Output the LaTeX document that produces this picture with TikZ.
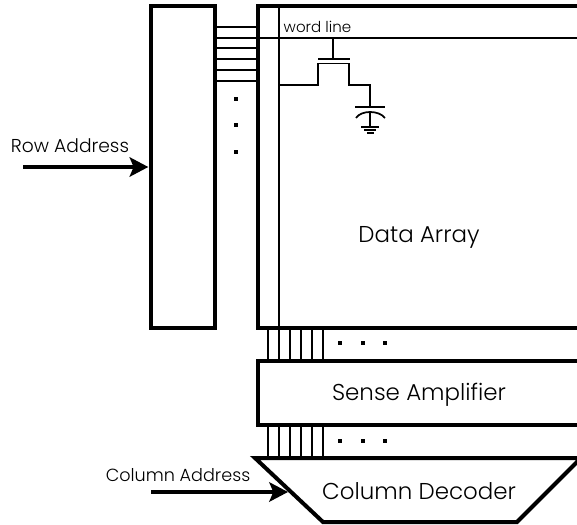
\documentclass[tikz,border=0pt]{standalone}
\usepackage{fontspec}
\setmainfont{Poppins Light}
\usetikzlibrary{arrows.meta}

\tikzset{
    thickline/.style={line width=3pt},
    thinline/.style={line width=1.3pt},
    busline/.style={line width=1.3pt},
    bigarrow/.style={line width=3pt,-{Stealth[length=14pt,width=14.5pt,inset=3pt]}},
    bigtext/.style={font=\fontsize{17.2}{20}\selectfont,inner sep=0pt},
    smalltext/.style={font=\fontsize{14}{17}\selectfont,inner sep=0pt},
    tinytext/.style={font=\fontsize{11.3}{13}\selectfont,inner sep=0pt},
    busdot/.style={fill=black,minimum size=3pt,inner sep=0pt}
}

\begin{document}
\begin{tikzpicture}[x=0.75pt,y=-0.75pt]
    \useasboundingbox (0,0) rectangle (577,524);
    \clip (0,0) rectangle (577,524);
    % row side
    \node[draw,thickline,outer sep=0pt,minimum width=48pt,minimum height=241.5pt] (rowdec) at (183,167){};
    \coordinate (rowtail) at (23,167);
    \draw[bigarrow,shorten >=2pt] (rowtail) -- (rowdec.west);
    \node[smalltext] (rowlabel) at (70,146){Row Address};
    \foreach \y in {27,48,59,70,81}
        \draw[busline] (215,\y) -- (258,\y);
    \foreach \y/\n in {99/a,125/b,152/c}
        \node[busdot] (rowdot\n) at (236,\y){};
    % data array
    \draw[thickline] (577,6) -- (258,6) -- (258,328) -- (577,328);
    \draw[thinline] (279,6) -- (279,328);
    \draw[thinline] (215,38) -- (577,38);
    \node[tinytext] (wordlabel) at (317.5,27){word line};
    \node[bigtext] (arraylabel) at (419,237){Data Array};
    % cell
    \draw[thinline] (333,38) -- (333,59);
    \draw[thinline] (318,59) -- (350,59);
    \draw[thinline] (279,85) -- (318,85) -- (318,63.5) -- (349,63.5) -- (349,85) -- (370,85) -- (370,107);
    \draw[thinline] (355,107) -- (385,107);
    \draw[thinline] (356,118) .. controls (361,110) and (379,110) .. (385,118);
    \draw[thinline] (370,112) -- (370,127);
    \draw[thinline] (361,127) -- (379,127);
    \draw[thinline] (364,130) -- (376,130);
    \draw[thinline] (367,133) -- (374,133);
    % column side
    \foreach \x in {268,279,290,301,312,323}{
        \draw[busline] (\x,328) -- (\x,361);
        \draw[busline] (\x,425) -- (\x,458);
    }
    \foreach \x/\n in {340/a,363/b,385/c}{
        \node[busdot] (topdot\n) at (\x,343){};
        \node[busdot] (lowdot\n) at (\x,441){};
    }
    \draw[thickline] (577,361) -- (258,361) -- (258,425) -- (577,425);
    \node[bigtext] (senselabel) at (419,395){Sense Amplifier};
    \coordinate (coltip) at (288,492);
    \coordinate (coltail) at (151,492);
    \draw[thickline,line join=miter] (581,458) -- (255,458) -- (323,522) -- (517,522) -- cycle;
    \draw[bigarrow] (coltail) -- (coltip);
    \node[smalltext,font=\fontsize{13.2}{16}\selectfont] (collabel) at (178,475){Column Address};
    \node[bigtext] (declabel) at (419,491){Column Decoder};
\end{tikzpicture}
\end{document}
